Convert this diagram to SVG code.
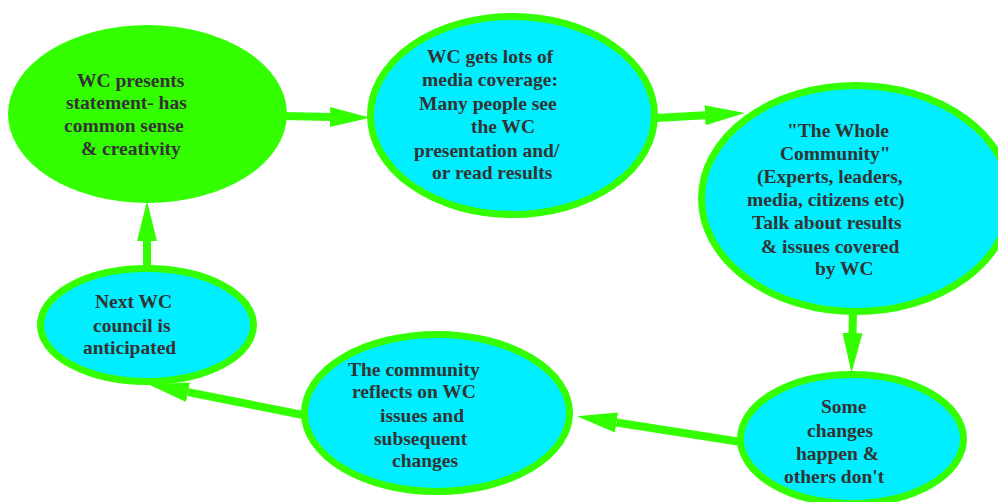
<svg xmlns="http://www.w3.org/2000/svg" width="998" height="502" viewBox="0 0 998 502">
<style>
.solid{fill:#33ff00;stroke:none}
.node{fill:#00eeff;stroke:#33ff00;stroke-width:7}
.lbl{font-family:"Liberation Serif","Times New Roman",serif;font-weight:bold;font-size:19.5px;fill:#333333}
.conn{fill:none;stroke:#33ff00;stroke-width:8;marker-end:url(#ah)}
</style>
<defs>
<marker id="ah" markerUnits="userSpaceOnUse" markerWidth="40" markerHeight="22" refX="0" refY="11" orient="auto" viewBox="0 0 40 22">
<path d="M0 1 L40 11 L0 21 Z" fill="#33ff00"/>
</marker>
</defs>
<rect width="998" height="502" fill="#ffffff"/>
<g id="connectors">
<path class="conn" d="M284 116 L330 117"/>
<path class="conn" d="M656 118 L705 115.2"/>
<path class="conn" d="M853 313 L852.5 333"/>
<path class="conn" d="M741 442 L616.5 422.5"/>
<path class="conn" d="M303 415 L188 392.2"/>
<path class="conn" d="M147 266 L147 241"/>
</g>
<g id="n1">
<ellipse class="solid" cx="147.5" cy="114" rx="139.5" ry="89"/>
<text class="lbl"><tspan x="77" y="87">WC presents</tspan><tspan x="66" y="109">statement- has</tspan><tspan x="64" y="132">common sense</tspan><tspan x="81" y="155">&amp; creativity</tspan></text>
</g>
<g id="n2">
<ellipse class="node" cx="512.5" cy="115.5" rx="142" ry="99"/>
<text class="lbl"><tspan x="427" y="63">WC gets lots of</tspan><tspan x="422" y="86">media coverage:</tspan><tspan x="419" y="110">Many people see</tspan><tspan x="471" y="133">the WC</tspan><tspan x="414" y="157">presentation and/</tspan><tspan x="432" y="179">or read results</tspan></text>
</g>
<g id="n3">
<ellipse class="node" cx="856" cy="198.5" rx="154.5" ry="113"/>
<text class="lbl"><tspan x="787" y="137">"The Whole</tspan><tspan x="780" y="160">Community"</tspan><tspan x="757" y="183">(Experts, leaders,</tspan><tspan x="747" y="206">media, citizens etc)</tspan><tspan x="752" y="229">Talk about results</tspan><tspan x="761" y="253">&amp; issues covered</tspan><tspan x="815" y="275">by WC</tspan></text>
</g>
<g id="n4">
<ellipse class="node" cx="147" cy="325" rx="106.5" ry="56.5"/>
<text class="lbl"><tspan x="95" y="308">Next WC</tspan><tspan x="93" y="332">council is</tspan><tspan x="83" y="354">anticipated</tspan></text>
</g>
<g id="n5">
<ellipse class="node" cx="437" cy="413" rx="132.5" ry="78.5"/>
<text class="lbl"><tspan x="348" y="376">The community</tspan><tspan x="352" y="398">reflects on WC</tspan><tspan x="380" y="422">issues and</tspan><tspan x="374" y="445">subsequent</tspan><tspan x="392" y="467">changes</tspan></text>
</g>
<g id="n6">
<ellipse class="node" cx="852" cy="439" rx="111.5" ry="64.5"/>
<text class="lbl"><tspan x="821" y="413">Some</tspan><tspan x="807" y="437">changes</tspan><tspan x="796" y="460">happen &amp;</tspan><tspan x="784" y="483">others don't</tspan></text>
</g>
</svg>
